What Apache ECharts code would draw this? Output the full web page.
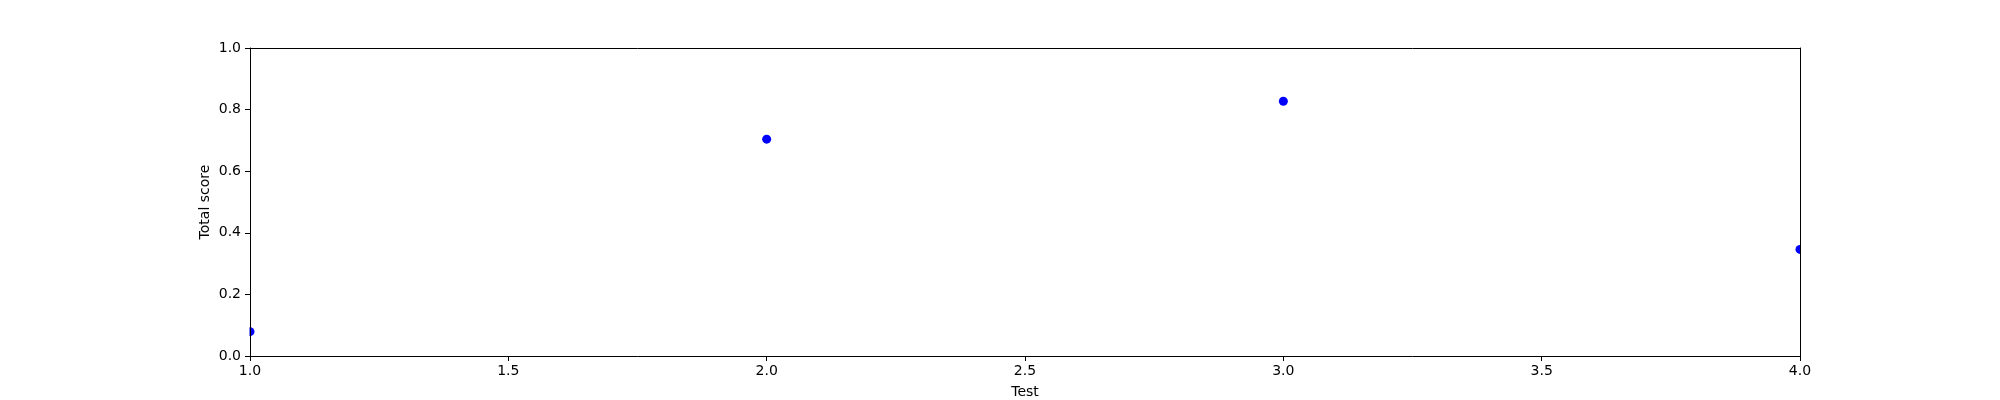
<!DOCTYPE html>
<html>
<head>
<meta charset="utf-8">
<script src="https://cdn.jsdelivr.net/npm/echarts@6/dist/echarts.min.js"></script>
<style>html,body{margin:0;padding:0;background:#fff;}#c{width:2000px;height:400px;}</style>
</head>
<body>
<div id="c"></div>
<script>
const tests = [1, 2, 3, 4];
const scores = [0.079, 0.704, 0.827, 0.346];
const xTicks = [1.0, 1.5, 2.0, 2.5, 3.0, 3.5, 4.0];
const yTicks = [0.0, 0.2, 0.4, 0.6, 0.8, 1.0];
const xName = 'Test';
const yName = 'Total score';

const chart = echarts.init(document.getElementById('c'), null, {renderer: 'canvas'});
const font = 'DejaVu Sans';
const axisCommon = {
  axisLine: {show: true, onZero: false, lineStyle: {color: '#000', width: 1}},
  splitLine: {show: false},
};
chart.setOption({
  animation: false,
  backgroundColor: '#fff',
  grid: {left: 250, right: 200, top: 48, bottom: 44, containLabel: false, outerBoundsMode: 'none'},
  graphic: [
    {type: 'rect', z: 5, shape: {x: 200, y: 40, width: 49.5, height: 316}, style: {fill: '#fff'}},
    {type: 'rect', z: 5, shape: {x: 1800.5, y: 40, width: 50, height: 316}, style: {fill: '#fff'}}
  ],
  xAxis: [{
    type: 'value', min: 1, max: 4, interval: 0.5, position: 'bottom', z: 10,
    name: xName, nameLocation: 'middle', nameGap: 29, nameMoveOverlap: false,
    nameTextStyle: {fontFamily: font, fontSize: 14, color: '#000'},
    axisTick: {show: true, inside: false, length: 5, lineStyle: {color: '#000'}},
    axisLabel: {fontFamily: font, fontSize: 14, color: '#000', margin: 8,
      formatter: v => v.toFixed(1)},
    ...axisCommon
  }, {
    type: 'value', min: 1, max: 4, position: 'top', z: 10,
    axisTick: {show: false}, axisLabel: {show: false}, ...axisCommon
  }],
  yAxis: [{
    type: 'value', min: 0, max: 1, interval: 0.2, position: 'left', z: 10,
    name: yName, nameLocation: 'middle', nameGap: 38, nameRotate: 90, nameMoveOverlap: false,
    nameTextStyle: {fontFamily: font, fontSize: 14, color: '#000'},
    axisTick: {show: true, inside: false, length: 5, lineStyle: {color: '#000'}},
    axisLabel: {fontFamily: font, fontSize: 14, color: '#000', margin: 9,
      formatter: v => v.toFixed(1)},
    ...axisCommon
  }, {
    type: 'value', min: 0, max: 1, position: 'right', z: 10,
    axisTick: {show: false}, axisLabel: {show: false}, ...axisCommon
  }],
  series: [{
    type: 'scatter',
    data: tests.map((t, i) => [t, scores[i]]),
    symbol: 'circle', symbolSize: 9,
    clip: false,
    itemStyle: {color: '#0000ff', opacity: 1},
    z: 2
  }]
});
</script>
</body>
</html>
